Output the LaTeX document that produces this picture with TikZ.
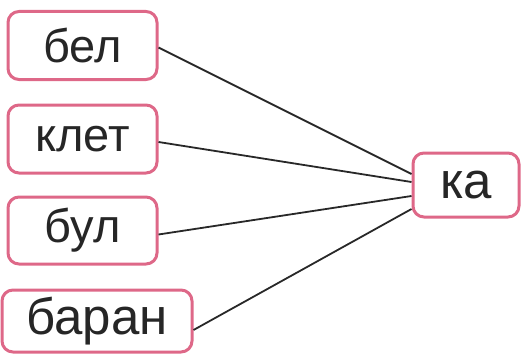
\documentclass[tikz,border=0pt]{standalone}
\usepackage{fontspec}
\setmainfont{Liberation Sans}
\definecolor{boxpink}{RGB}{222,104,136}
\definecolor{linegray}{RGB}{40,40,40}
\tikzset{
  wordbox/.style={draw=boxpink, line width=3pt, rounded corners=11pt, fill=white,
    inner sep=0pt, font=\fontsize{47}{47}\selectfont, text=black!85},
  link/.style={draw=linegray, line width=1.8pt}
}
\begin{document}
\begin{tikzpicture}[x=1pt,y=1pt]
\useasboundingbox (0,0) rectangle (522,357);
\node[wordbox, minimum width=149pt, minimum height=68pt] (bel) at (82.5,311.5) {бел};
\node[wordbox, minimum width=149pt, minimum height=68pt] (klet) at (82.5,218) {клет};
\node[wordbox, minimum width=149pt, minimum height=67pt] (bul) at (82.5,126.5) {бул};
\node[wordbox, minimum width=190pt, minimum height=62pt, font=\fontsize{51}{51}\selectfont] (baran) at (97,36) {баран};
\node[wordbox, minimum width=106pt, minimum height=64pt, font=\fontsize{51}{51}\selectfont] (ka) at (466,172) {ка};
\coordinate (e1) at ([yshift=11pt]ka.west);
\coordinate (e2) at ([yshift=3pt]ka.west);
\coordinate (e3) at ([yshift=-11pt]ka.west);
\coordinate (e4) at ([yshift=-24pt]ka.west);
\draw[link] ([yshift=-2pt]bel.east) -- (e1);
\draw[link] ([yshift=-3pt]klet.east) -- (e2);
\draw[link] ([yshift=-4pt]bul.east) -- (e3);
\draw[link] ([yshift=-9pt]baran.east) -- (e4);
\end{tikzpicture}
\end{document}
